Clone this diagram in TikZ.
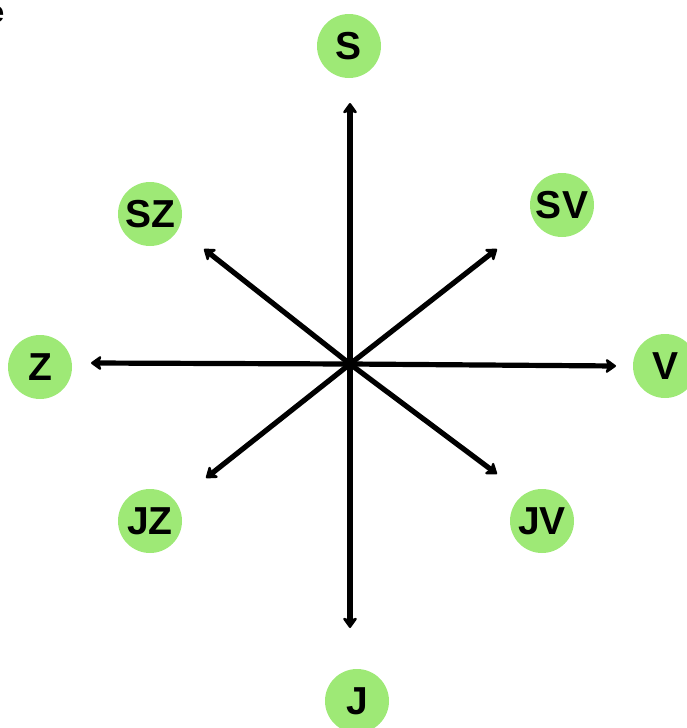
\documentclass[tikz,border=0pt]{standalone}
\usepackage{fontspec}
\setmainfont{Liberation Sans}
\usetikzlibrary{arrows.meta}
\definecolor{dotgreen}{RGB}{158,233,118}
\tikzset{
  dir/.style={circle, fill=dotgreen, minimum size=64pt, inner sep=0pt,
    font=\fontsize{39}{39}\selectfont\bfseries},
  arr/.style={line width=5.2pt, -{Stealth[length=12pt,width=17pt,inset=3pt,round]}}
}
\begin{document}
\begin{tikzpicture}[x=1pt,y=-1pt]
\useasboundingbox (0,0) rectangle (686,728);
\node[font=\fontsize{30}{30}\selectfont\bfseries, anchor=base] (cut) at (-4,22) {e};
\coordinate (c) at (350,364);
\node[dir] (S) at (349,46) {S};
\node[dir] (SV) at (562,205) {SV};
\node[dir] (V) at (665,366) {V};
\node[dir] (JV) at (542,521) {JV};
\node[dir] (J) at (357,701) {J};
\node[dir] (JZ) at (150,521) {JZ};
\node[dir] (Z) at (40,367) {Z};
\node[dir] (SZ) at (150,214) {SZ};
\coordinate (tS) at (350,103);
\coordinate (tSV) at (497,249);
\coordinate (tV) at (616,366);
\coordinate (tJV) at (497,474);
\coordinate (tJ) at (350,628);
\coordinate (tJZ) at (206,478);
\coordinate (tZ) at (91,363);
\coordinate (tSZ) at (204,249);
\foreach \t in {tS,tSV,tV,tJV,tJ,tJZ,tZ,tSZ} \draw[arr] (c) -- (\t);
\end{tikzpicture}
\end{document}
